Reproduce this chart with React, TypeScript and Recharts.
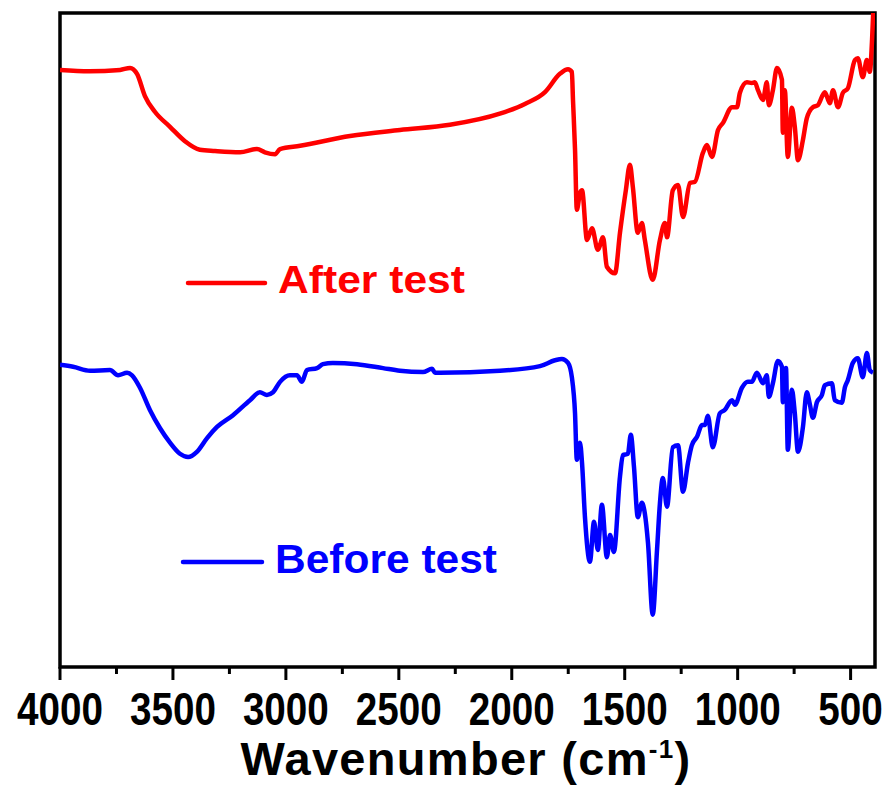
import React from 'react';
import { LineChart, Line, XAxis, YAxis, ReferenceArea, Customized } from 'recharts';

// FTIR spectra, wavenumber (cm-1) vs transmittance (a.u.)
const afterWavenumber = [
  4000, 3870, 3734, 3690, 3659, 3624, 3580, 3513, 3447, 3381, 3314, 3203, 3128, 3093, 3048, 3026,
  2937, 2716, 2495, 2274, 2053, 1942, 1853, 1787, 1751, 1734, 1729, 1720, 1712, 1698, 1689, 1667,
  1645, 1619, 1596, 1579, 1543, 1521, 1495, 1477, 1464, 1442, 1424, 1411, 1376, 1344, 1322, 1313,
  1287, 1264, 1242, 1211, 1189, 1154, 1136, 1114, 1087, 1065, 1025, 1003, 990, 959, 937, 924, 910,
  888, 871, 862, 844, 826, 804, 800, 791, 778, 760, 747, 733, 711, 694, 667, 645, 614, 592, 578,
  556, 534, 512, 481, 468, 446, 428, 415, 405, 400,
];
const afterTransmittance = [
  91.3, 91.1, 91.3, 91.6, 90.7, 87.3, 84.9, 82.6, 80.4, 79.1, 78.9, 78.7, 79.2, 78.7, 78.4, 79.2,
  79.7, 81.2, 82.1, 82.9, 84.6, 86.1, 87.9, 90.7, 91.4, 91.0, 86.7, 79.1, 69.9, 72.5, 72.9, 65.3,
  67.1, 63.8, 65.7, 61.2, 60.2, 66.4, 72.9, 76.8, 73.4, 66.4, 67.9, 65.3, 59.2, 65.3, 67.9, 65.7,
  72.9, 73.7, 68.8, 74.0, 74.2, 78.6, 79.8, 78.0, 82.1, 83.2, 85.6, 85.6, 87.8, 89.4, 89.3, 89.4, 88.2,
  86.7, 89.4, 85.9, 88.2, 91.6, 89.8, 81.7, 88.2, 78.0, 85.5, 82.6, 77.5, 80.6, 83.9, 85.6, 85.9, 87.9, 86.2, 88.2,
  85.6, 87.8, 88.5, 92.8, 93.1, 90.2, 92.8, 91.0, 95.9, 100,
];

const beforeWavenumber = [
  4000, 3942, 3867, 3779, 3743, 3703, 3681, 3646, 3602, 3557, 3513, 3469, 3433, 3394, 3349, 3305,
  3234, 3159, 3115, 3084, 3057, 3026, 2982, 2951, 2929, 2907, 2862, 2836, 2792, 2685, 2570, 2495,
  2393, 2353, 2340, 2318, 2052, 1875, 1809, 1778, 1751, 1734, 1720, 1712, 1698, 1689, 1676, 1654,
  1636, 1619, 1601, 1579, 1565, 1548, 1521, 1508, 1486, 1473, 1459, 1442, 1424, 1411, 1397, 1376,
  1357, 1344, 1331, 1313, 1287, 1264, 1242, 1220, 1203, 1180, 1158, 1145, 1132, 1110, 1079, 1057,
  1025, 1012, 981, 955, 937, 915, 888, 871, 862, 844, 822, 804, 800, 786, 778, 760, 747, 733, 711,
  694, 680, 667, 649, 627, 614, 583, 570, 539, 525, 512, 490, 468, 446, 428, 415, 401,
];
const beforeTransmittance = [
  46.2, 45.9, 45.3, 45.4, 44.6, 45.0, 44.6, 42.7, 39.3, 36.5, 34.3, 32.6, 32.1, 32.9, 35.0, 36.7,
  38.5, 40.8, 42.0, 41.6, 42.0, 43.6, 44.6, 44.6, 43.6, 45.4, 45.7, 46.3, 46.5, 46.3, 45.7, 45.3,
  45.1, 45.6, 45.0, 45.0, 45.3, 46.0, 46.9, 47.1, 46.5, 44.3, 38.8, 31.7, 34.3, 31.2, 22.9, 16.1,
  22.2, 17.9, 24.8, 16.8, 20.2, 17.6, 29.1, 32.4, 32.6, 35.5, 30.6, 22.9, 25.1, 23.5, 19.0, 8.0,
  17.9, 25.1, 28.9, 24.5, 33.6, 33.9, 26.8, 31.2, 33.9, 35.2, 37.0, 37.0, 38.4, 33.6, 38.8, 39.3,
  40.8, 40.1, 42.7, 43.6, 43.6, 45.0, 43.4, 44.6, 41.3, 43.4, 46.8, 45.9, 40.5, 45.7, 33.2, 42.4, 38.8, 32.9, 36.7,
  42.0, 40.1, 38.1, 40.5, 41.6, 43.1, 43.4, 40.8, 40.4, 42.8, 43.9, 46.5, 47.2, 44.3, 48.0, 45.4, 45.0,
];

const majorTicks = [4000, 3500, 3000, 2500, 2000, 1500, 1000, 500];
const minorTicks = [3750, 3250, 2750, 2250, 1750, 1250, 750];
const axisTicks = [...majorTicks, ...minorTicks].sort((a, b) => b - a);

const afterData = afterWavenumber.map((w, i) => ({ w, t: afterTransmittance[i] }));
const beforeData = beforeWavenumber.map((w, i) => ({ w, t: beforeTransmittance[i] }));

const FONT = '"Liberation Sans", Arial, Helvetica, sans-serif';
const RED = '#ff0000';
const BLUE = '#0000ff';

const WaveTick = (props: any) => {
  const { x, y, payload } = props;
  const v = payload.value as number;
  const major = majorTicks.includes(v);
  const label = String(v);
  return (
    <g>
      <line x1={x} x2={x} y1={y} y2={y + (major ? 13 : 7)} stroke="#000" strokeWidth={3} />
      {major && (
        <text
          x={x}
          y={y + 58}
          textAnchor="middle"
          fontSize={46}
          fontWeight="bold"
          fontFamily={FONT}
          textLength={label.length * 21.5}
          lengthAdjust="spacingAndGlyphs"
          fill="#000"
        >
          {label}
        </text>
      )}
    </g>
  );
};

const Annotations = () => (
  <g fontFamily={FONT} fontWeight="bold">
    <text x={458} y={767} textAnchor="middle" fontSize={47} fill="#000" letterSpacing={1.3}>
      Wavenumber (cm
      <tspan fontSize={26} dy={-17}>-1</tspan>
      <tspan dy={17}>)</tspan>
    </text>
    <line x1={180} x2={257} y1={275} y2={275} stroke={RED} strokeWidth={4.5} strokeLinecap="round" />
    <text x={270} y={285} fontSize={39} fill={RED} textLength={187} lengthAdjust="spacingAndGlyphs">
      After test
    </text>
    <line x1={175} x2={254} y1={554} y2={554} stroke={BLUE} strokeWidth={4.5} strokeLinecap="round" />
    <text x={267} y={565} fontSize={41} fill={BLUE} textLength={222} lengthAdjust="spacingAndGlyphs">
      Before test
    </text>
  </g>
);

export default function App() {
  return (
    <LineChart
      width={875}
      height={777}
      margin={{ top: 5, right: 8, bottom: 8, left: 52 }}
      style={{ overflow: 'visible' }}
    >
      <XAxis
        dataKey="w"
        type="number"
        domain={[392, 4000]}
        reversed
        allowDataOverflow
        ticks={axisTicks}
        interval={0}
        axisLine={false}
        tickLine={false}
        tickSize={0}
        tickMargin={0}
        tick={<WaveTick />}
        height={110}
      />
      <YAxis type="number" domain={[0, 100]} hide allowDataOverflow />
      <ReferenceArea x1={392} x2={4000} y1={0} y2={100} fill="none" stroke="#000" strokeWidth={3.5} />
      <Line
        data={afterData}
        dataKey="t"
        type="monotone"
        stroke={RED}
        strokeWidth={4.5}
        dot={false}
        isAnimationActive={false}
      />
      <Line
        data={beforeData}
        dataKey="t"
        type="monotone"
        stroke={BLUE}
        strokeWidth={4.5}
        dot={false}
        isAnimationActive={false}
      />
      <Customized component={Annotations} />
    </LineChart>
  );
}
